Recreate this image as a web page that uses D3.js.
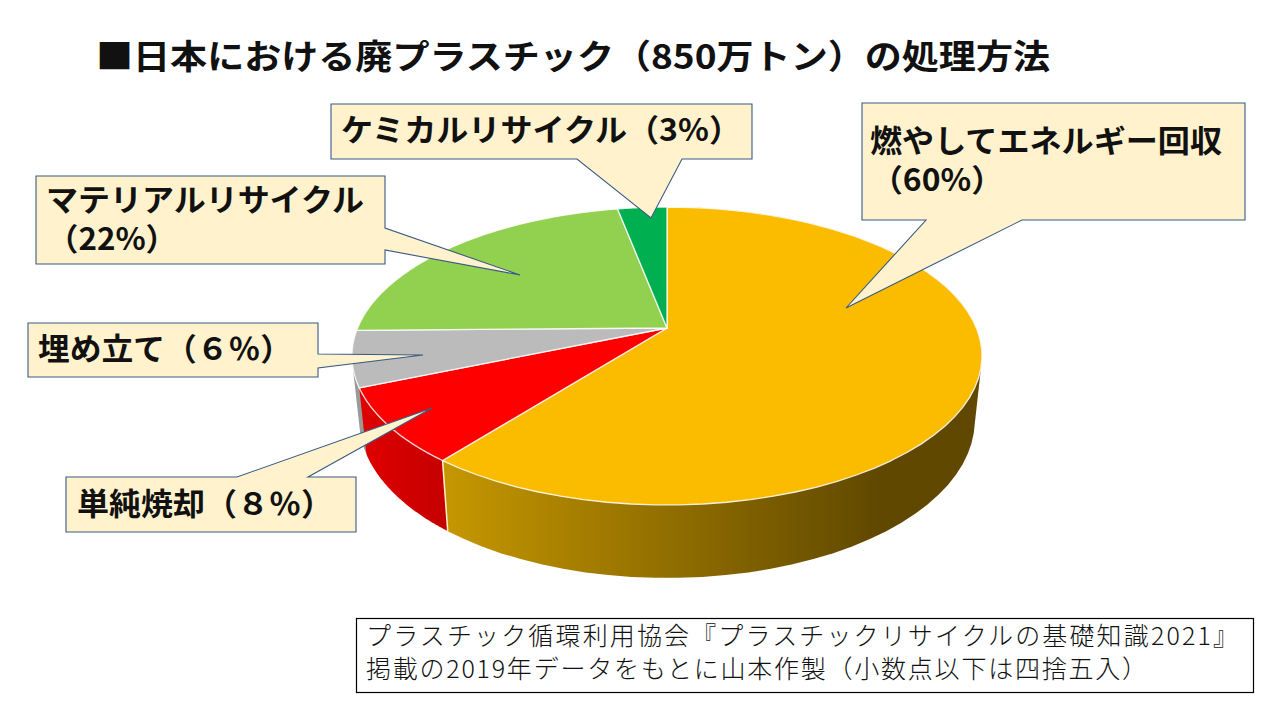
<!DOCTYPE html>
<html><head><meta charset="utf-8">
<script src="https://cdnjs.cloudflare.com/ajax/libs/d3/7.8.5/d3.min.js"></script>
<style>html,body{margin:0;background:#fff}svg{display:block}
text{font-family:"Noto Sans CJK JP","Noto Sans",sans-serif}</style></head><body>
<svg id="c" width="1280" height="720"></svg>
<script>
const categories=["燃やしてエネルギー回収","単純焼却","埋め立て","マテリアルリサイクル","ケミカルリサイクル"];
const values=[60,8,6,22,3];
const colors=["#FBBC00","#FF0000","#BBBBBB","#92D050","#00B050"];
const sideColors=["url(#goldSide)","url(#redSide)","#9a9a9a","#7aae42","#009040"];
const titleText="■日本における廃プラスチック（850万トン）の処理方法";
const sourceLines=["プラスチック循環利用協会『プラスチックリサイクルの基礎知識2021』","掲載の2019年データをもとに山本作製（小数点以下は四捨五入）"];

const svg=d3.select("#c");
const defs=svg.append("defs");
function grad(id,x1,x2,c1,c2){
  const g=defs.append("linearGradient").attr("id",id).attr("gradientUnits","userSpaceOnUse")
    .attr("x1",x1).attr("x2",x2).attr("y1",0).attr("y2",0);
  g.append("stop").attr("offset",0).attr("stop-color",c1);
  g.append("stop").attr("offset",1).attr("stop-color",c2);
}
grad("goldSide",449,880,"#C49600","#604800");
grad("redSide",365,449,"#DE0000","#C40000");

// perspective projection of the pie disc
const cx=667, apexY=328, R=309.4, S=143.7, k=0.188;
const rim=a=>{const u=Math.sin(a),v=-Math.cos(a),w=1-k*v;return [cx+R*u/w,apexY+S*v/w];};
const low=a=>{const p=rim(a),v=-Math.cos(a);return [cx+(p[0]-cx)*0.977,p[1]+62+11*v];};
const sample=(a0,a1,f)=>d3.range(0,61).map(i=>f(a0+(a1-a0)*i/60));
const line=d3.line();

const arcs=d3.pie().sort(null)(values);
const drawOrder=[2,1,0];
svg.append("g").selectAll("path").data(drawOrder).join("path")
  .attr("d",i=>{const d=arcs[i];return line(d3.polygonHull([...sample(d.startAngle,d.endAngle,rim),...sample(d.startAngle,d.endAngle,low)]))+"Z";})
  .attr("fill",i=>sideColors[i]);
// edge between gold and red wall
svg.append("path").attr("d",line([rim(arcs[0].endAngle),low(arcs[0].endAngle)]))
  .attr("stroke","#FFF2CC").attr("stroke-width",1.5).attr("fill","none");
svg.append("g").selectAll("path").data(arcs).join("path")
  .attr("d",d=>line([[cx,apexY],...sample(d.startAngle,d.endAngle,rim)])+"Z")
  .attr("fill",(d,i)=>colors[i]).attr("stroke","#FFFFFF").attr("stroke-opacity",.85).attr("stroke-width",1.3).attr("stroke-linejoin","round");

// callouts
function callout(x0,y0,x1,y1,wedge,lines){
  const [a,b,t]=wedge;let pts;
  if(a[1]===y1) pts=[[x0,y0],[x1,y0],[x1,y1],b,t,a,[x0,y1]];       // bottom edge wedge
  else if(a[1]===y0) pts=[[x0,y0],a,t,b,[x1,y0],[x1,y1],[x0,y1]];  // top edge wedge
  else pts=[[x0,y0],[x1,y0],a,t,b,[x1,y1],[x0,y1]];                // right edge wedge
  svg.append("path").attr("d",line(pts)+"Z").attr("fill","#FFF2CC").attr("stroke","#3A5A85").attr("stroke-width",1.1);
  lines.forEach(l=>{
    const tx=svg.append("text").attr("x",l.x).attr("y",l.y).attr("font-size",l.s||31).attr("font-weight",700).attr("fill","#111").text(l.t);
    if(l.w) tx.attr("textLength",l.w).attr("lengthAdjust","spacingAndGlyphs");
  });
}
callout(862,103,1245,220,[[926,220],[1022,220],[846,308]],[
  {t:categories[0],x:870,y:152,w:352},{t:"（60%）",x:871,y:191,w:132}]);
callout(331,104,752,159,[[577,159],[682,159],[651,218]],[
  {t:categories[4]+"（3%）",x:341,y:141,w:400}]);
callout(36,176,385,264,[[385,228],[385,250],[520,275]],[
  {t:categories[3],x:46,y:211,w:318},{t:"（22%）",x:47,y:250,w:130}]);
callout(28,323,318,377,[[318,354],[318,368],[423,355]],[
  {t:categories[2]+"（６％）",x:38,y:360,w:254}]);
callout(66,477,356,532,[[237,477],[308,477],[432,408]],[
  {t:categories[1]+"（８％）",x:77,y:515,w:256}]);

// title
svg.append("text").attr("x",96).attr("y",69).attr("font-size",34).attr("font-weight",700).attr("fill","#111")
  .attr("textLength",954).attr("lengthAdjust","spacingAndGlyphs").text(titleText);

// source box
svg.append("rect").attr("x",356.5).attr("y",618.5).attr("width",897).attr("height",74).attr("fill","#fff").attr("stroke","#000").attr("stroke-width",1.2);
const srcW=[872,781];
sourceLines.forEach((t,i)=>svg.append("text").attr("x",366).attr("y",645+i*33).attr("font-size",25).attr("font-weight",300).attr("fill","#111")
  .attr("textLength",srcW[i]).attr("lengthAdjust","spacing").text(t));
</script></body></html>
